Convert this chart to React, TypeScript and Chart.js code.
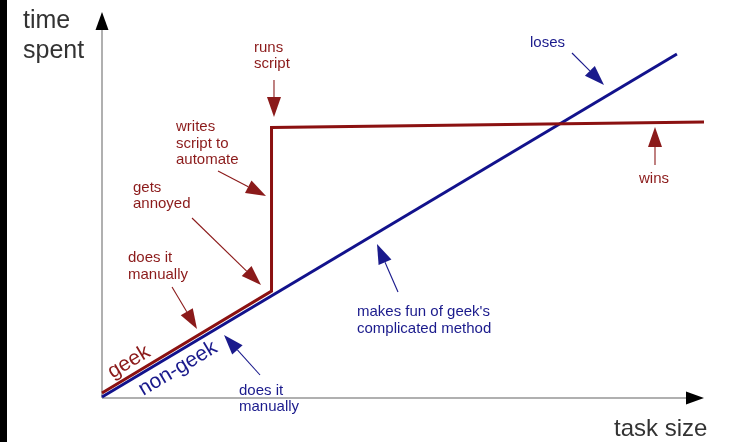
import React, { useEffect, useRef } from "react";
import { Chart, registerables } from "chart.js";

Chart.register(...registerables);

// Series (task size 0..100, time spent 0..100)
const geekX = [0, 28.16, 28.16, 100];
const geekY = [1.3, 27.7, 70.1, 71.5];
const nonGeekX = [0, 95.5];
const nonGeekY = [0.26, 89.1];

const RED = "#8b1111";
const BLUE = "#12128c";
const RED_TEXT = "#8b1a1a";
const BLUE_TEXT = "#1a1a8c";

// Annotations: text lines, anchor (data units, first baseline), arrow from -> to (data units)
const annTexts = [
  ["runs", "script"],
  ["writes", "script to", "automate"],
  ["gets", "annoyed"],
  ["does it", "manually"],
  ["does it", "manually"],
  ["makes fun of geek's", "complicated method"],
  ["loses"],
  ["wins"],
];
const annColors = [RED_TEXT, RED_TEXT, RED_TEXT, RED_TEXT, BLUE_TEXT, BLUE_TEXT, BLUE_TEXT, RED_TEXT];
const annAnchorX = [25.25, 12.29, 5.15, 4.32, 22.76, 42.36, 71.1, 89.2];
const annAnchorY = [89.64, 69.17, 53.37, 35.23, 0.78, 21.24, 90.93, 55.7];
const arrowFromX = [28.57, 19.27, 14.95, 11.63, 26.25, 49.17, 78.07, 91.86];
const arrowFromY = [82.38, 58.81, 46.63, 28.76, 5.96, 27.46, 89.38, 60.36];
const arrowToX = [28.57, 27.24, 26.41, 15.78, 20.27, 45.68, 83.39, 91.86];
const arrowToY = [72.8, 52.33, 29.27, 17.88, 16.32, 39.9, 81.09, 70.21];

// Line labels along the lines (data units, centre)
const lineLabels = ["geek", "non-geek"];
const lineLabelX = [4.49, 12.62];
const lineLabelY = [9.3, 7.6];

const axisTitleY = ["time", "spent"];
const axisTitleX = "task size";

function drawArrow(ctx: CanvasRenderingContext2D, x1: number, y1: number, x2: number, y2: number, color: string, headLen: number, headW: number, shaftW: number) {
  const ang = Math.atan2(y2 - y1, x2 - x1);
  const bx = x2 - Math.cos(ang) * headLen;
  const by = y2 - Math.sin(ang) * headLen;
  ctx.save();
  ctx.strokeStyle = color;
  ctx.fillStyle = color;
  ctx.lineWidth = shaftW;
  ctx.beginPath();
  ctx.moveTo(x1, y1);
  ctx.lineTo(bx, by);
  ctx.stroke();
  ctx.beginPath();
  ctx.moveTo(x2, y2);
  ctx.lineTo(bx + Math.sin(ang) * headW, by - Math.cos(ang) * headW);
  ctx.lineTo(bx - Math.sin(ang) * headW, by + Math.cos(ang) * headW);
  ctx.closePath();
  ctx.fill();
  ctx.restore();
}

const framePlugin = {
  id: "frame",
  beforeDatasetsDraw(chart: any) {
    const { ctx, chartArea, height } = chart;
    ctx.save();
    ctx.fillStyle = "#000";
    ctx.fillRect(0, 0, 7, height);
    const left = chartArea.left;
    const bottom = chartArea.bottom;
    ctx.strokeStyle = "#b0b0b0";
    ctx.lineWidth = 2;
    ctx.beginPath();
    ctx.moveTo(left, bottom);
    ctx.lineTo(left, chartArea.top + 16);
    ctx.moveTo(left, bottom);
    ctx.lineTo(chartArea.right - 16, bottom);
    ctx.stroke();
    ctx.fillStyle = "#000";
    ctx.beginPath();
    ctx.moveTo(left, chartArea.top);
    ctx.lineTo(left - 6.5, chartArea.top + 18);
    ctx.lineTo(left + 6.5, chartArea.top + 18);
    ctx.closePath();
    ctx.fill();
    ctx.beginPath();
    ctx.moveTo(chartArea.right, bottom);
    ctx.lineTo(chartArea.right - 18, bottom - 6.5);
    ctx.lineTo(chartArea.right - 18, bottom + 6.5);
    ctx.closePath();
    ctx.fill();
    ctx.fillStyle = "#333333";
    ctx.font = '25px "Liberation Sans", Arial, sans-serif';
    ctx.textAlign = "left";
    ctx.textBaseline = "alphabetic";
    axisTitleY.forEach((t, i) => ctx.fillText(t, 23, 28 + i * 30));
    ctx.font = '24px "Liberation Sans", Arial, sans-serif';
    ctx.fillText(axisTitleX, 614, 436);
    ctx.restore();
  },
  afterDatasetsDraw(chart: any) {
    const { ctx } = chart;
    const xs = chart.scales.x;
    const ys = chart.scales.y;
    ctx.save();
    ctx.font = '15px "Liberation Sans", Arial, sans-serif';
    ctx.textAlign = "left";
    ctx.textBaseline = "alphabetic";
    annTexts.forEach((lines, i) => {
      const px = xs.getPixelForValue(annAnchorX[i]);
      const py = ys.getPixelForValue(annAnchorY[i]);
      ctx.fillStyle = annColors[i];
      lines.forEach((l, j) => ctx.fillText(l, px, py + j * 16.5));
      drawArrow(
        ctx,
        xs.getPixelForValue(arrowFromX[i]),
        ys.getPixelForValue(arrowFromY[i]),
        xs.getPixelForValue(arrowToX[i]),
        ys.getPixelForValue(arrowToY[i]),
        annColors[i],
        20,
        7,
        1.1
      );
    });
    const slopes = [
      [geekX[0], geekY[0], geekX[1], geekY[1]],
      [nonGeekX[0], nonGeekY[0], nonGeekX[1], nonGeekY[1]],
    ];
    const cols = [RED_TEXT, BLUE_TEXT];
    ctx.font = '21px "Liberation Sans", Arial, sans-serif';
    ctx.textAlign = "center";
    ctx.textBaseline = "middle";
    lineLabels.forEach((t, i) => {
      const s = slopes[i];
      const ang = Math.atan2(
        ys.getPixelForValue(s[3]) - ys.getPixelForValue(s[1]),
        xs.getPixelForValue(s[2]) - xs.getPixelForValue(s[0])
      );
      ctx.save();
      ctx.translate(xs.getPixelForValue(lineLabelX[i]), ys.getPixelForValue(lineLabelY[i]));
      ctx.rotate(ang);
      ctx.fillStyle = cols[i];
      ctx.fillText(t, 0, 0);
      ctx.restore();
    });
    ctx.restore();
  },
};

export default function App() {
  const ref = useRef<HTMLCanvasElement>(null);
  useEffect(() => {
    if (!ref.current) return;
    const chart = new Chart(ref.current, {
      type: "line",
      data: {
        datasets: [
          {
            label: "geek",
            data: geekX.map((x, i) => ({ x, y: geekY[i] })),
            borderColor: RED,
            borderWidth: 3,
            pointRadius: 0,
            tension: 0,
            borderJoinStyle: "miter",
            clip: false as any,
          },
          {
            label: "non-geek",
            data: nonGeekX.map((x, i) => ({ x, y: nonGeekY[i] })),
            borderColor: BLUE,
            borderWidth: 3,
            pointRadius: 0,
            tension: 0,
            clip: false as any,
          },
        ],
      },
      options: {
        animation: false,
        responsive: false,
        devicePixelRatio: 1,
        layout: { padding: { left: 102, right: 25, top: 12, bottom: 44 } },
        scales: {
          x: { type: "linear", min: 0, max: 100, display: false },
          y: { type: "linear", min: 0, max: 100, display: false },
        },
        plugins: { legend: { display: false }, tooltip: { enabled: false } },
      },
      plugins: [framePlugin],
    });
    return () => chart.destroy();
  }, []);
  return (
    <div style={{ position: "fixed", left: 0, top: 0, width: 729, height: 442, background: "#fff" }}>
      <canvas ref={ref} width={729} height={442} style={{ display: "block" }} />
    </div>
  );
}
